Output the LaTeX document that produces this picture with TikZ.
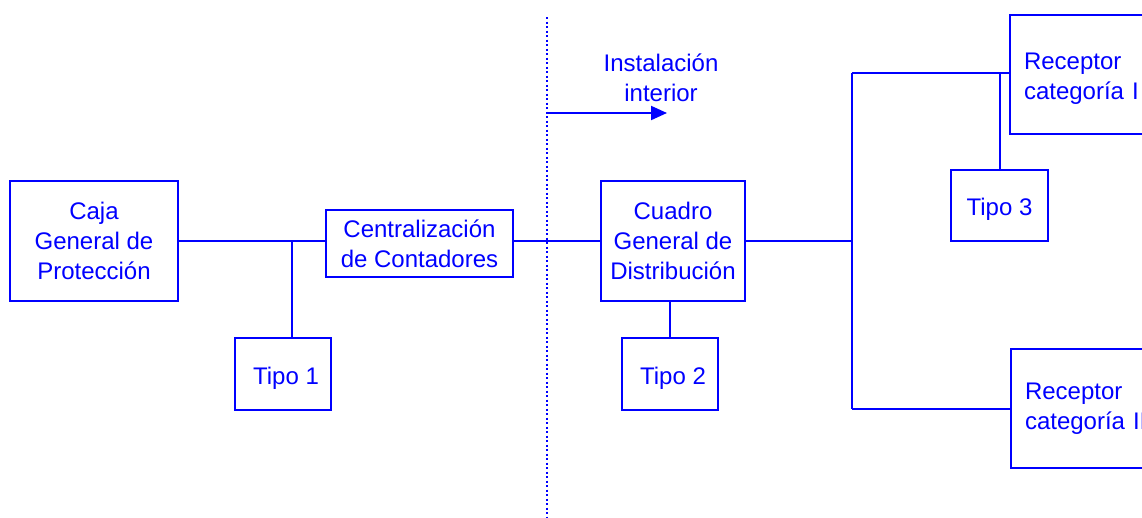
\documentclass[tikz,border=0pt]{standalone}
\usepackage{fontspec}
\setmainfont{Liberation Sans}
\usetikzlibrary{arrows.meta,calc}
\definecolor{dblue}{RGB}{0,0,255}
\newcommand{\dnstrut}{\rule{0pt}{25pt}}
\tikzset{
  box/.style={draw=dblue, line width=2pt, text=dblue, align=center, inner sep=0pt,
              font=\fontsize{24}{30}\selectfont},
  wire/.style={draw=dblue, line width=2pt},
  lbl/.style={text=dblue, align=center, font=\fontsize{24}{30}\selectfont},
}
\begin{document}
\begin{tikzpicture}[x=1pt,y=-1pt]
\useasboundingbox (0,0) rectangle (1142,517);
\clip (0,0) rectangle (1142,517);
% boxes
\node[box, minimum width=168pt, minimum height=120pt] (cgp) at (94,241) {Caja\\General de\\Protección};
\node[box, minimum width=96pt, minimum height=72pt] (t1) at (283,374) {\dnstrut\hspace*{6pt}Tipo 1};
\node[box, minimum width=187pt, minimum height=67pt] (cc) at (419.5,243.5) {Centralización\\de Contadores};
\node[box, minimum width=144pt, minimum height=120pt] (cgd) at (673,241) {Cuadro\\General de\\Distribución};
\node[box, minimum width=96pt, minimum height=72pt] (t2) at (670,374) {\dnstrut\hspace*{6pt}Tipo 2};
\node[box, minimum width=97pt, minimum height=71pt] (t3) at (999.5,205.5) {\dnstrut Tipo 3};
\node[box, anchor=north west, minimum width=200pt, minimum height=119pt, text width=172pt,
      inner xsep=14pt, align=left] (r1) at (1009,14) {\dnstrut Receptor\\categoría I};
\node[box, anchor=north west, minimum width=200pt, minimum height=119pt, text width=172pt,
      inner xsep=14pt, align=left] (r2) at (1010,348) {Receptor\\categoría II};
% label
\node[lbl] (inst) at (661,78) {Instalación\\interior};
% junction coordinates
\coordinate (j1) at (292,241);
\coordinate (j2) at (852,241);
\coordinate (jt) at (852,73);
\coordinate (jb) at (852,409);
\coordinate (j3) at (1000,73);
\coordinate (dtop) at (547,17);
\coordinate (dbot) at (547,517);
\coordinate (as) at (547,113);
\coordinate (ae) at (667,113);
% connectors
\draw[wire] (cgp.east) -- (j1) -- (j1 -| cc.west);
\draw[wire] (j1) -- (j1 |- t1.north);
\draw[wire] (cc.east |- j1) -- (cgd.west);
\draw[wire] (t2.north) -- (t2.north |- cgd.south);
\draw[wire] (cgd.east) -- (j2);
\draw[wire] (jt) -- (jb);
\draw[wire] (jt) -- (jt -| r1.west);
\draw[wire] (jb) -- (jb -| r2.west);
\draw[wire] (j3) -- (j3 |- t3.north);
% dotted boundary and arrow
\draw[draw=dblue, line width=2pt, dash pattern=on 2pt off 2.5pt] (dtop) -- (dbot);
\draw[wire, -{Triangle[length=16pt,width=14pt]}] (as) -- (ae);
\end{tikzpicture}
\end{document}
